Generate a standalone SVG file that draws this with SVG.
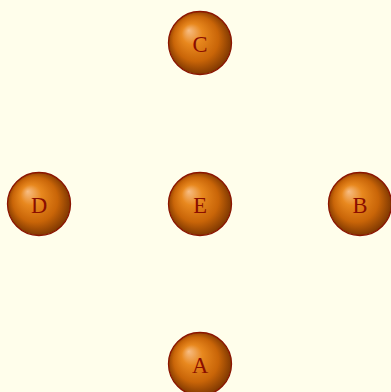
<svg xmlns="http://www.w3.org/2000/svg" width="391" height="392" viewBox="0 0 391 392">
<defs>
<radialGradient id="ball" cx="0.5" cy="0.5" r="0.55" fx="0.32" fy="0.3" gradientUnits="objectBoundingBox">
<stop offset="0" stop-color="#f7bd84"/>
<stop offset="0.3" stop-color="#e8881e"/>
<stop offset="0.65" stop-color="#c96508"/>
<stop offset="1" stop-color="#6e2e00"/>
</radialGradient>
</defs>
<style>
.n circle{fill:url(#ball);stroke:#8b1500;stroke-width:1.3}
.n text{font-family:"Liberation Serif",serif;font-size:22.5px;fill:#8b0e00;text-anchor:middle;dominant-baseline:central}
</style>
<rect width="391" height="392" fill="#fffeeb"/>
<g id="connectors"/>
<g id="C" class="n"><circle cx="200" cy="43" r="31.5"/><text x="200" y="44">C</text></g>
<g id="D" class="n"><circle cx="39" cy="204" r="31.5"/><text x="39" y="205">D</text></g>
<g id="E" class="n"><circle cx="200" cy="204" r="31.5"/><text x="200" y="205">E</text></g>
<g id="B" class="n"><circle cx="360" cy="204" r="31.5"/><text x="360" y="205">B</text></g>
<g id="A" class="n"><circle cx="200" cy="364" r="31.5"/><text x="200" y="365">A</text></g>
</svg>
